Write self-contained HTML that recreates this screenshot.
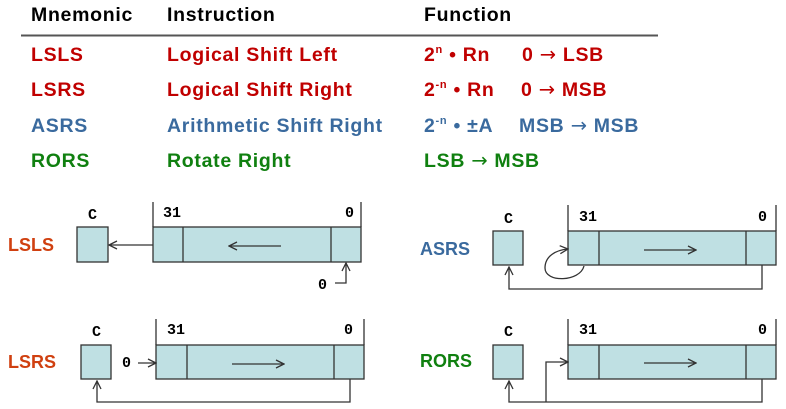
<!DOCTYPE html>
<html><head><meta charset="utf-8"><style>
body{margin:0;background:#fff}
svg{display:block}
text{font-family:"Liberation Sans",Arial,sans-serif;font-weight:bold}
.m{font-family:"Liberation Mono",monospace;font-weight:bold;font-size:15px;fill:#000;letter-spacing:0}
.t{font-size:19.5px;letter-spacing:0.7px}
.ar{font-family:"DejaVu Sans",sans-serif;font-weight:normal}
.r{fill:#c00000}.b{fill:#3a6a9e}.g{fill:#108010}.o{fill:#d04010}
.bx{fill:#bfe0e3;stroke:#333;stroke-width:1.3}
.ln{stroke:#333;stroke-width:1.3;fill:none}
</style></head><body>
<svg width="786" height="409" viewBox="0 0 786 409">
<defs><marker id="a" markerWidth="10" markerHeight="10" refX="9" refY="5" orient="auto" markerUnits="userSpaceOnUse"><path d="M1,1 L9,5 L1,9" fill="none" stroke="#333" stroke-width="1.3"/></marker></defs>
<text class="t" x="31" y="21" fill="#000">Mnemonic</text>
<text class="t" x="167" y="21" fill="#000">Instruction</text>
<text class="t" x="424" y="21" fill="#000">Function</text>
<line x1="21" y1="35.5" x2="658" y2="35.5" stroke="#555" stroke-width="2"/>
<text class="t r" x="31" y="61">LSLS</text><text class="t r" x="167" y="61">Logical Shift Left</text>
<text class="t r" x="424" y="61">2<tspan font-size="11" dy="-8">n</tspan><tspan dy="8"> • Rn</tspan></text><text class="t r" x="522" y="61">0 <tspan class="ar">→</tspan> LSB</text>
<text class="t r" x="31" y="96">LSRS</text><text class="t r" x="167" y="96">Logical Shift Right</text>
<text class="t r" x="424" y="96">2<tspan font-size="11" dy="-8">-n</tspan><tspan dy="8"> • Rn</tspan></text><text class="t r" x="521" y="96">0 <tspan class="ar">→</tspan> MSB</text>
<text class="t b" x="31" y="132">ASRS</text><text class="t b" x="167" y="132">Arithmetic Shift Right</text>
<text class="t b" x="424" y="132">2<tspan font-size="11" dy="-8">-n</tspan><tspan dy="8"> • ±A</tspan></text><text class="t b" x="519" y="132">MSB <tspan class="ar">→</tspan> MSB</text>
<text class="t g" x="31" y="167">RORS</text><text class="t g" x="167" y="167">Rotate Right</text>
<text class="t g" x="424" y="167">LSB <tspan class="ar">→</tspan> MSB</text>

<!-- LSLS -->
<text class="o" x="8" y="251" font-size="18">LSLS</text>
<text class="m" x="88" y="219">C</text>
<rect class="bx" x="77" y="227" width="31" height="35"/>
<line class="ln" x1="153" y1="202" x2="153" y2="227"/><line class="ln" x1="361" y1="202" x2="361" y2="227"/>
<text class="m" x="163" y="217">31</text><text class="m" x="345" y="217">0</text>
<rect class="bx" x="153" y="227" width="208" height="35"/>
<line class="ln" x1="183" y1="227" x2="183" y2="262"/><line class="ln" x1="331" y1="227" x2="331" y2="262"/>
<line class="ln" x1="281" y1="246" x2="229" y2="246" marker-end="url(#a)"/>
<line class="ln" x1="153" y1="245" x2="109" y2="245" marker-end="url(#a)"/>
<text class="m" x="318" y="289">0</text>
<path class="ln" d="M335,283 H346 V263" marker-end="url(#a)"/>

<!-- LSRS -->
<text class="o" x="8" y="368" font-size="18">LSRS</text>
<text class="m" x="92" y="336">C</text>
<rect class="bx" x="81" y="345" width="30" height="34"/>
<line class="ln" x1="156" y1="319" x2="156" y2="345"/><line class="ln" x1="364" y1="319" x2="364" y2="345"/>
<text class="m" x="167" y="334">31</text><text class="m" x="344" y="334">0</text>
<rect class="bx" x="156" y="345" width="208" height="34"/>
<line class="ln" x1="187" y1="345" x2="187" y2="379"/><line class="ln" x1="334" y1="345" x2="334" y2="379"/>
<line class="ln" x1="232" y1="364" x2="284" y2="364" marker-end="url(#a)"/>
<text class="m" x="122" y="367">0</text>
<line class="ln" x1="138" y1="363" x2="156" y2="363" marker-end="url(#a)"/>
<path class="ln" d="M350,379 V402 H97 V381" marker-end="url(#a)"/>

<!-- ASRS -->
<text class="b" x="420" y="255" font-size="18">ASRS</text>
<text class="m" x="504" y="223">C</text>
<rect class="bx" x="493" y="231" width="30" height="34"/>
<line class="ln" x1="568" y1="205" x2="568" y2="231"/><line class="ln" x1="776" y1="205" x2="776" y2="231"/>
<text class="m" x="579" y="221">31</text><text class="m" x="758" y="221">0</text>
<rect class="bx" x="568" y="231" width="208" height="34"/>
<line class="ln" x1="599" y1="231" x2="599" y2="265"/><line class="ln" x1="746" y1="231" x2="746" y2="265"/>
<line class="ln" x1="644" y1="250" x2="696" y2="250" marker-end="url(#a)"/>
<path class="ln" d="M584,266 C580,282 545,283 545,268 C545,256 556,250 568,249" marker-end="url(#a)"/>
<path class="ln" d="M762,265 V289 H509 V267" marker-end="url(#a)"/>

<!-- RORS -->
<text class="g" x="420" y="367" font-size="18">RORS</text>
<text class="m" x="504" y="336">C</text>
<rect class="bx" x="493" y="345" width="30" height="34"/>
<line class="ln" x1="568" y1="319" x2="568" y2="345"/><line class="ln" x1="776" y1="319" x2="776" y2="345"/>
<text class="m" x="579" y="334">31</text><text class="m" x="758" y="334">0</text>
<rect class="bx" x="568" y="345" width="208" height="34"/>
<line class="ln" x1="599" y1="345" x2="599" y2="379"/><line class="ln" x1="746" y1="345" x2="746" y2="379"/>
<line class="ln" x1="644" y1="363" x2="696" y2="363" marker-end="url(#a)"/>
<path class="ln" d="M762,379 V402 H509 V381" marker-end="url(#a)"/>
<path class="ln" d="M546,402 V362 H568" marker-end="url(#a)"/>
</svg>
</body></html>
